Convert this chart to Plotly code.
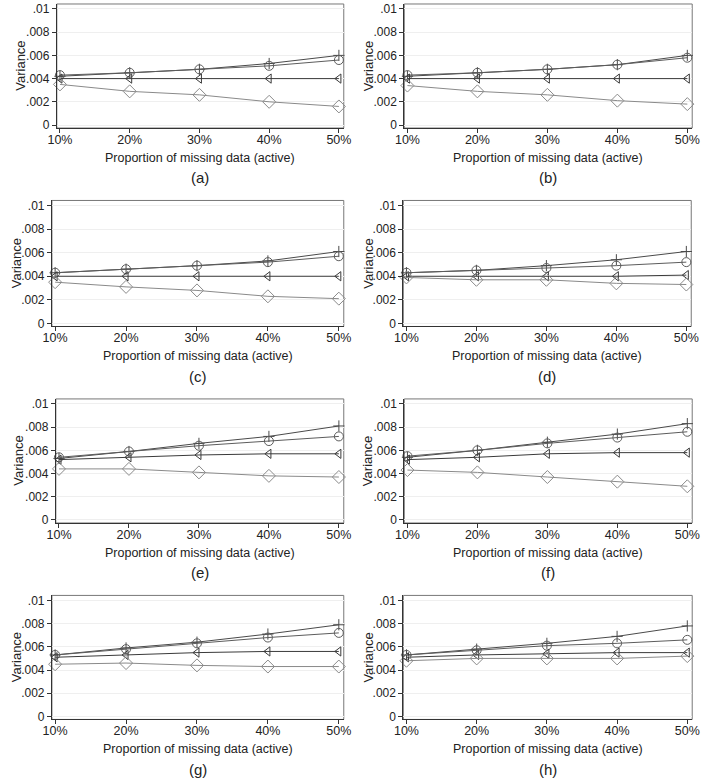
import plotly.graph_objects as go

# ---------------- data ----------------
x_pct = [10, 20, 30, 40, 50]
x_tick_labels = ["10%", "20%", "30%", "40%", "50%"]
y_tick_vals = [0, 0.002, 0.004, 0.006, 0.008, 0.01]
y_tick_labels = ["0", ".002", ".004", ".006", ".008", ".01"]
panel_labels = ["(a)", "(b)", "(c)", "(d)", "(e)", "(f)", "(g)", "(h)"]
x_title = "Proportion of missing data (active)"
y_title = "Variance"

plus_a = [0.0042, 0.0045, 0.0048, 0.0053, 0.0060]
circle_a = [0.0043, 0.0045, 0.0048, 0.0051, 0.0056]
tri_a = [0.0040, 0.0040, 0.0040, 0.0040, 0.0040]
diam_a = [0.0035, 0.0029, 0.0026, 0.0020, 0.0016]

plus_b = [0.0042, 0.0045, 0.0048, 0.0052, 0.0060]
circle_b = [0.0043, 0.0045, 0.0048, 0.0052, 0.0058]
tri_b = [0.0040, 0.0040, 0.0040, 0.0040, 0.0040]
diam_b = [0.0034, 0.0029, 0.0026, 0.0021, 0.0018]

plus_c = [0.0043, 0.0046, 0.0049, 0.0053, 0.0061]
circle_c = [0.0043, 0.0046, 0.0049, 0.0052, 0.0057]
tri_c = [0.0040, 0.0040, 0.0040, 0.0040, 0.0040]
diam_c = [0.0035, 0.0031, 0.0028, 0.0023, 0.0021]

plus_d = [0.0043, 0.0045, 0.0049, 0.0054, 0.0061]
circle_d = [0.0043, 0.0045, 0.0047, 0.0049, 0.0052]
tri_d = [0.0040, 0.0040, 0.0040, 0.0040, 0.0041]
diam_d = [0.0039, 0.0037, 0.0037, 0.0034, 0.0033]

plus_e = [0.0053, 0.0059, 0.0066, 0.0072, 0.0081]
circle_e = [0.0054, 0.0059, 0.0064, 0.0068, 0.0072]
tri_e = [0.0052, 0.0054, 0.0056, 0.0057, 0.0057]
diam_e = [0.0044, 0.0044, 0.0041, 0.0038, 0.0037]

plus_f = [0.0054, 0.0060, 0.0067, 0.0074, 0.0083]
circle_f = [0.0055, 0.0060, 0.0066, 0.0071, 0.0076]
tri_f = [0.0052, 0.0054, 0.0057, 0.0058, 0.0058]
diam_f = [0.0043, 0.0041, 0.0037, 0.0033, 0.0029]

plus_g = [0.0053, 0.0059, 0.0064, 0.0071, 0.0079]
circle_g = [0.0053, 0.0058, 0.0063, 0.0068, 0.0072]
tri_g = [0.0051, 0.0053, 0.0055, 0.0056, 0.0056]
diam_g = [0.0045, 0.0046, 0.0044, 0.0043, 0.0043]

plus_h = [0.0053, 0.0058, 0.0063, 0.0069, 0.0078]
circle_h = [0.0053, 0.0057, 0.0061, 0.0063, 0.0066]
tri_h = [0.0051, 0.0053, 0.0054, 0.0055, 0.0055]
diam_h = [0.0048, 0.0050, 0.0050, 0.0050, 0.0052]

panels = [
    (plus_a, circle_a, tri_a, diam_a),
    (plus_b, circle_b, tri_b, diam_b),
    (plus_c, circle_c, tri_c, diam_c),
    (plus_d, circle_d, tri_d, diam_d),
    (plus_e, circle_e, tri_e, diam_e),
    (plus_f, circle_f, tri_f, diam_f),
    (plus_g, circle_g, tri_g, diam_g),
    (plus_h, circle_h, tri_h, diam_h),
]

# ---------------- layout (pixel boxes of plot frames) ----------------
W, H = 709, 782
boxes = [
    (49, 343, 2, 127), (405, 700, 2, 127),
    (44, 343, 200, 327), (404, 699, 200, 327),
    (48, 343, 400, 525), (405, 700, 400, 525),
    (44, 343, 598, 723), (404, 700, 598, 723),
]
vt_x = [11, 368, 8, 368, 10, 368, 8, 368]

FONT = "Liberation Sans, Arial, sans-serif"
styles = [
    dict(symbol="cross-thin-open", size=8, color="#4a4a4a", lc="#4a4a4a"),
    dict(symbol="circle-open", size=9, color="#5c5c5c", lc="#5c5c5c"),
    dict(symbol="triangle-left-open", size=8, color="#3a3a3a", lc="#3a3a3a"),
    dict(symbol="diamond-open", size=10, color="#8a8a8a", lc="#8a8a8a"),
]

fig = go.Figure()
layout = dict(
    width=W, height=H, margin=dict(l=0, r=0, t=0, b=0),
    paper_bgcolor="white", plot_bgcolor="white", showlegend=False,
    font=dict(family=FONT, size=12, color="#222222"),
)
annotations = []
shapes = []

for i, (series, box) in enumerate(zip(panels, boxes)):
    n = i + 1
    xa = "x" if n == 1 else f"x{n}"
    ya = "y" if n == 1 else f"y{n}"
    for s, st in zip(series, styles):
        fig.add_trace(go.Scatter(
            x=x_pct, y=s, mode="lines+markers", xaxis=xa, yaxis=ya,
            line=dict(color=st["lc"], width=1),
            marker=dict(symbol=st["symbol"], size=st["size"],
                        color=st["color"], line=dict(color=st["color"], width=1)),
            cliponaxis=False, hoverinfo="skip",
        ))
    l, r, t, b = box
    xkey = "xaxis" if n == 1 else f"xaxis{n}"
    ykey = "yaxis" if n == 1 else f"yaxis{n}"
    layout[xkey] = dict(
        domain=[l / W, r / W], anchor=ya, range=[9.55, 50.7],
        tickvals=x_pct, ticktext=x_tick_labels, ticks="outside", ticklen=4,
        tickcolor="#333", showline=True, linecolor="#333", linewidth=1,
        showgrid=False, zeroline=False, fixedrange=True,
        ticklabeloverflow="allow", ticklabelstandoff=-4,
        tickfont=dict(family=FONT, size=12.5, color="#222"),
    )
    layout[ykey] = dict(
        domain=[1 - b / H, 1 - t / H], anchor=xa, range=[-0.00026, 0.01043],
        tickvals=y_tick_vals, ticktext=y_tick_labels, ticks="outside", ticklen=4,
        tickcolor="#333", showline=True, linecolor="#333", linewidth=1,
        showgrid=True, gridcolor="#efefef", gridwidth=1, zeroline=False,
        fixedrange=True, ticklabeloverflow="allow",
        tickfont=dict(family=FONT, size=12, color="#222"),
    )
    shapes.append(dict(type="rect", xref=f"{xa} domain", yref=f"{ya} domain",
                       x0=0, x1=1, y0=0, y1=1, line=dict(color="#777", width=1),
                       layer="below"))
    cx = (l + r) / 2 / W
    annotations.append(dict(text=x_title, x=cx, y=1 - (b + 30) / H, xref="paper", yref="paper",
                            showarrow=False, xanchor="center", yanchor="middle",
                            font=dict(family=FONT, size=12.5, color="#222")))
    annotations.append(dict(text=panel_labels[i], x=cx, y=1 - (b + 50) / H, xref="paper", yref="paper",
                            showarrow=False, xanchor="center", yanchor="middle",
                            font=dict(family=FONT, size=15, color="#222")))
    annotations.append(dict(text=y_title, x=vt_x[i] / W, y=1 - ((t + b) / 2) / H, xref="paper", yref="paper",
                            showarrow=False, xanchor="center", yanchor="middle", textangle=-90,
                            font=dict(family=FONT, size=13, color="#222")))

layout["annotations"] = annotations
layout["shapes"] = shapes
fig.update_layout(**layout)
fig.write_html("out.html", config={"displayModeBar": False, "staticPlot": True},
               post_script="document.body.style.margin='0';document.body.style.padding='0';")
